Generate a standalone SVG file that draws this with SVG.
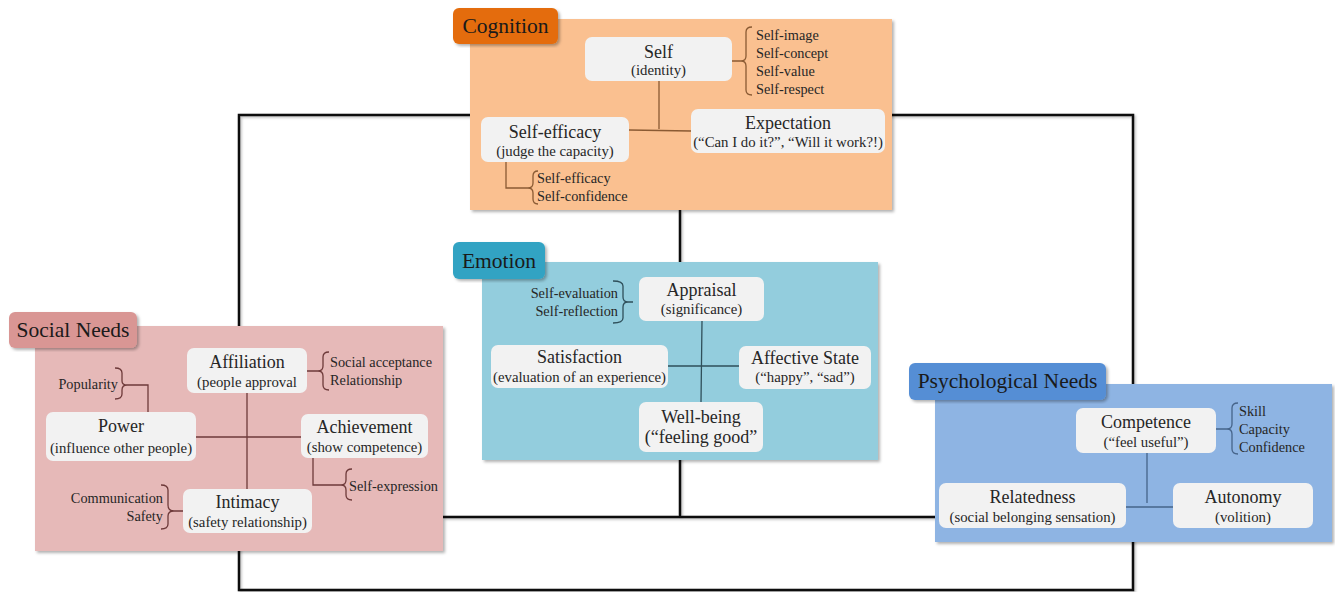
<svg xmlns="http://www.w3.org/2000/svg" width="1335" height="592" viewBox="0 0 1335 592">
<defs>
<filter id="sh" x="-5%" y="-5%" width="112%" height="115%">
<feDropShadow dx="2" dy="2" stdDeviation="1.5" flood-color="#000" flood-opacity="0.3"/>
</filter>
<filter id="lsh" x="-5%" y="-5%" width="110%" height="110%">
<feDropShadow dx="1.5" dy="1.5" stdDeviation="1" flood-color="#000" flood-opacity="0.25"/>
</filter>
<style>
text{font-family:"Liberation Serif","Times New Roman",serif;fill:#262626}
.t{font-size:18px;text-anchor:middle}
.s{font-size:14.8px;text-anchor:middle}
.l{font-size:14.3px}
.r{font-size:14.3px;text-anchor:end}
.tab{font-size:21.5px;text-anchor:middle;fill:#1a1a1a}
.node{fill:#F2F2F2}
.frame{fill:none;stroke:#111;stroke-width:2.5}
.c1{fill:none;stroke:#8a5a33;stroke-width:1.3}
.c2{fill:none;stroke:#2f4f5a;stroke-width:1.3}
.c3{fill:none;stroke:#6e3a3a;stroke-width:1.3}
.c4{fill:none;stroke:#46648a;stroke-width:1.3}
</style>
</defs>
<rect width="1335" height="592" fill="#fff"/>
<g id="frame">
<rect class="frame" x="239" y="115" width="894" height="475" filter="url(#lsh)"/>
<path class="frame" d="M680,210 V517 M443,517 H935" filter="url(#lsh)"/>
</g>

<g id="cognition">
<rect x="470" y="19" width="422" height="191" fill="#FAC090" filter="url(#sh)"/>
<rect x="453" y="8" width="105" height="36" rx="6" fill="#E46C0A" filter="url(#sh)"/>
<text class="tab" x="505.5" y="33">Cognition</text>
</g>
<g id="emotion">
<rect x="482" y="262" width="396" height="198" fill="#93CDDD" filter="url(#sh)"/>
<rect x="453" y="242" width="92" height="37" rx="6" fill="#31A3C3" filter="url(#sh)"/>
<text class="tab" x="499" y="268">Emotion</text>
</g>
<g id="social-needs">
<rect x="35" y="326" width="408" height="225" fill="#E6B9B8" filter="url(#sh)"/>
<rect x="9" y="312" width="128" height="36" rx="6" fill="#D99694" filter="url(#sh)"/>
<text class="tab" x="73" y="337">Social Needs</text>
</g>
<g id="psychological-needs">
<rect x="935" y="384" width="397" height="158" fill="#8EB4E3" filter="url(#sh)"/>
<rect x="909" y="363" width="197" height="37" rx="6" fill="#558ED5" filter="url(#sh)"/>
<text class="tab" x="1007.5" y="388">Psychological Needs</text>
</g>

<g id="connectors">
<path class="c1" d="M659,81 V129 M629,130 L691,131"/>
<path class="c1" d="M732,61 H741 Q746,61 746,56 V32 Q746,27 752,27 M746,66 V90 Q746,95 752,95 M741,61 Q746,61 746,66"/>
<path class="c1" d="M506,162 V188 H528 Q533,188 533,183 V176 Q533,171 538,171 M528,188 Q533,188 533,193 V199 Q533,204 538,204"/>
<path class="c2" d="M702,321 L701,402 M668,366 H739"/>
<path class="c2" d="M613,281 Q623,281 623,286 V297 Q623,302 628,302 H633 M628,302 Q623,302 623,307 V318 Q623,323 613,323"/>
<path class="c3" d="M247,393 V489 M196,437 H301"/>
<path class="c3" d="M115,368 Q122,368 122,373 V381 Q122,385 127,385 H148 V412 M127,385 Q122,385 122,390 V394 Q122,399 115,399"/>
<path class="c3" d="M307,371 H318 Q323,371 323,366 V357 Q323,352 329,352 M318,371 Q323,371 323,376 V385 Q323,390 329,390"/>
<path class="c3" d="M313,458 V485 H341 Q346,485 346,480 V474 Q346,469 352,469 M341,485 Q346,485 346,490 V495 Q346,500 352,500"/>
<path class="c3" d="M161,485 Q168,485 168,490 V505 Q168,511 174,511 H183 M174,511 Q168,511 168,516 V524 Q168,529 161,529"/>
<path class="c4" d="M1147,453 V503 M1126,507 H1173"/>
<path class="c4" d="M1216,429 H1227 Q1232,429 1232,424 V408 Q1232,403 1238,403 M1227,429 Q1232,429 1232,434 V449 Q1232,454 1238,454"/>
</g>

<g id="self">
<rect class="node" x="585" y="37" width="147" height="44" rx="7"/>
<text class="t" x="658.5" y="58">Self</text>
<text class="s" x="658.5" y="75">(identity)</text>
<text class="l" x="756" y="40">Self-image</text>
<text class="l" x="756" y="58">Self-concept</text>
<text class="l" x="756" y="76">Self-value</text>
<text class="l" x="756" y="94">Self-respect</text>
</g>
<g id="self-efficacy">
<rect class="node" x="481" y="117" width="148" height="45" rx="7"/>
<text class="t" x="555" y="138">Self-efficacy</text>
<text class="s" x="555" y="156">(judge the capacity)</text>
<text class="l" x="537" y="183">Self-efficacy</text>
<text class="l" x="537" y="201">Self-confidence</text>
</g>
<g id="expectation">
<rect class="node" x="691" y="109" width="194" height="44" rx="7"/>
<text class="t" x="788" y="129">Expectation</text>
<text class="s" x="788" y="147">(“Can I do it?”, “Will it work?!)</text>
</g>

<g id="appraisal">
<rect class="node" x="639" y="277" width="125" height="44" rx="7"/>
<text class="t" x="701.5" y="296">Appraisal</text>
<text class="s" x="701.5" y="314">(significance)</text>
<text class="r" x="618" y="298">Self-evaluation</text>
<text class="r" x="618" y="316">Self-reflection</text>
</g>
<g id="satisfaction">
<rect class="node" x="491" y="345" width="177" height="43" rx="7"/>
<text class="t" x="579.5" y="363">Satisfaction</text>
<text class="s" x="579.5" y="382">(evaluation of an experience)</text>
</g>
<g id="affective-state">
<rect class="node" x="739" y="346" width="132" height="43" rx="7"/>
<text class="t" x="805" y="364">Affective State</text>
<text class="s" x="805" y="382">(“happy”, “sad”)</text>
</g>
<g id="well-being">
<rect class="node" x="639" y="402" width="124" height="50" rx="7"/>
<text class="t" x="701" y="423">Well-being</text>
<text class="t" x="701" y="443">(“feeling good”</text>
</g>

<g id="affiliation">
<rect class="node" x="187" y="348" width="120" height="45" rx="7"/>
<text class="t" x="247" y="368">Affiliation</text>
<text class="s" x="247" y="387">(people approval</text>
<text class="l" x="330" y="367">Social acceptance</text>
<text class="l" x="330" y="385">Relationship</text>
</g>
<g id="power">
<rect class="node" x="46" y="412" width="150" height="49" rx="7"/>
<text class="t" x="121" y="432">Power</text>
<text class="s" x="121" y="453">(influence other people)</text>
<text class="r" x="118" y="389">Popularity</text>
</g>
<g id="achievement">
<rect class="node" x="301" y="414" width="127" height="44" rx="7"/>
<text class="t" x="364.5" y="433">Achievement</text>
<text class="s" x="364.5" y="452">(show competence)</text>
<text class="l" x="349" y="491">Self-expression</text>
</g>
<g id="intimacy">
<rect class="node" x="183" y="489" width="129" height="44" rx="7"/>
<text class="t" x="247.5" y="508">Intimacy</text>
<text class="s" x="247.5" y="527">(safety relationship)</text>
<text class="r" x="163" y="503">Communication</text>
<text class="r" x="163" y="521">Safety</text>
</g>

<g id="competence">
<rect class="node" x="1076" y="408" width="140" height="45" rx="7"/>
<text class="t" x="1146" y="428">Competence</text>
<text class="s" x="1146" y="447">(“feel useful”)</text>
<text class="l" x="1239" y="416">Skill</text>
<text class="l" x="1239" y="434">Capacity</text>
<text class="l" x="1239" y="452">Confidence</text>
</g>
<g id="relatedness">
<rect class="node" x="939" y="483" width="187" height="45" rx="7"/>
<text class="t" x="1032.5" y="503">Relatedness</text>
<text class="s" x="1032.5" y="522">(social belonging sensation)</text>
</g>
<g id="autonomy">
<rect class="node" x="1173" y="483" width="140" height="45" rx="7"/>
<text class="t" x="1243" y="503">Autonomy</text>
<text class="s" x="1243" y="522">(volition)</text>
</g>
</svg>
